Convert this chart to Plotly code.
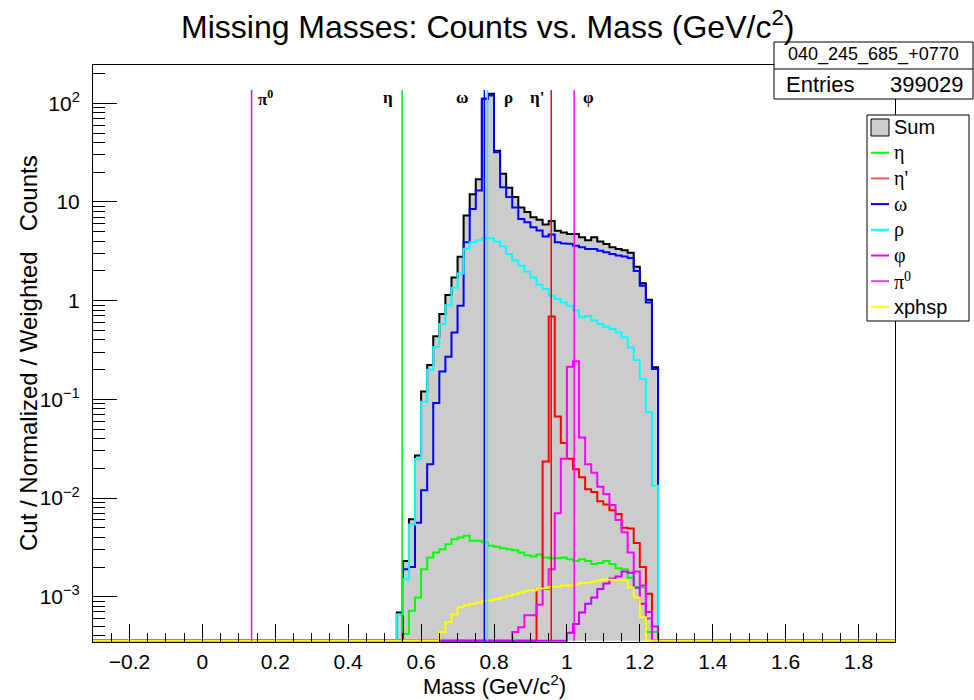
import plotly.graph_objects as go

# ---------------- data (bin width 1/60 GeV; first listed bin lower edge = 32/60) ----------------
BIN_WIDTH = 1.0 / 60.0
FIRST_BIN = 32
AXIS_BIN_LO, AXIS_BIN_HI = -18, 114          # -0.3 .. 1.9

sum_counts = [6.9e-4, 2.3e-3, 6.1e-3, 0.027, 0.12, 0.223, 0.435, 0.733, 1.14, 1.72,
              2.79, 7.3, 12.0, 17.0, 111.0, 125.0, 33.0, 19.3, 13.9, 11.2,
              8.8, 7.9, 7.0, 6.6, 5.9, 6.4, 5.1, 4.9, 4.75, 4.75,
              4.4, 4.1, 4.4, 3.97, 3.76, 3.47, 3.34, 3.25, 3.05, 2.2,
              1.5, 1.02, 0.211]
eta_counts = [0, 4.2e-4, 7.2e-4, 9.8e-4, 1.9e-3, 2.5e-3, 2.8e-3, 3.03e-3, 3.4e-3, 3.83e-3,
              3.98e-3, 4.14e-3, 3.68e-3, 3.68e-3, 3.54e-3, 3.28e-3, 3.2e-3, 3.1e-3, 3.03e-3, 2.95e-3,
              2.8e-3, 2.63e-3, 2.55e-3, 2.68e-3, 2.5e-3, 2.45e-3, 2.45e-3, 2.5e-3, 2.4e-3, 2.3e-3,
              2.4e-3, 2.3e-3, 2.14e-3, 2.2e-3, 2.3e-3, 2.14e-3, 1.94e-3, 1.9e-3, 1.56e-3, 1.26e-3,
              1.24e-3, 4.4e-4, 4.4e-4]
etap_counts = [0, 0, 0, 0, 0, 0, 0, 0, 0, 0,
               0, 0, 0, 0, 0, 0, 0, 0, 0, 0,
               0, 0, 0, 1.2e-3, 0.0234, 0.69, 0.067, 0.036, 0.025, 0.0196,
               0.0162, 0.0123, 0.0115, 0.0093, 0.0086, 0.0075, 0.0069, 0.005, 0.0049, 0.0035,
               0.002, 1.07e-3, 0]
omega_counts = [0, 1.9e-3, 2.0e-3, 5.6e-3, 0.012, 0.022, 0.092, 0.192, 0.27, 0.477,
                0.89, 3.9, 8.5, 13.1, 111.0, 120.0, 31.9, 14.1, 11.2, 8.8,
                6.74, 6.22, 5.54, 5.13, 4.46, 4.67, 3.9, 3.81, 3.76, 3.61,
                3.47, 3.34, 3.34, 3.21, 3.09, 2.97, 2.86, 2.8, 2.7, 2.0,
                1.42, 0.96, 0.203]
rho_counts = [6.6e-4, 1.5e-3, 5.4e-3, 0.0248, 0.0946, 0.2, 0.34, 0.58, 0.9, 1.35,
              1.88, 3.35, 3.9, 4.1, 4.3, 4.3, 3.97, 3.55, 2.97, 2.55,
              2.26, 1.98, 1.72, 1.45, 1.31, 1.12, 1.04, 0.96, 0.89, 0.80,
              0.68, 0.70, 0.63, 0.58, 0.545, 0.516, 0.477, 0.425, 0.336, 0.25,
              0.161, 0.074, 0.0133]
phi_counts = [0, 0, 0, 0, 0, 0, 0, 0, 0, 0,
              0, 0, 0, 0, 0, 0, 0, 0, 0, 4.4e-4,
              4.9e-4, 6.5e-4, 6.5e-4, 8.3e-4, 1.2e-3, 1.9e-3, 0.007, 0.025, 0.214, 0.243,
              0.041, 0.022, 0.018, 0.013, 0.011, 0.0085, 0.006, 0.0045, 0.0028, 0.0018,
              1.3e-3, 6e-4, 0]
pi0_counts = [0, 0, 0, 0, 0, 0, 0, 0, 0, 0,
              0, 0, 0, 0, 0, 0, 0, 0, 0, 0,
              0, 0, 0, 0, 0, 0, 0, 0, 4.3e-4, 5.3e-4,
              6.9e-4, 8.5e-4, 9.8e-4, 1.2e-3, 1.36e-3, 1.53e-3, 1.6e-3, 1.8e-3, 1.75e-3, 1.23e-3,
              8.5e-4, 7e-4, 5e-4]
xphsp_counts = [0, 0, 0, 0, 0, 0, 0, 4.4e-4, 5.5e-4, 6.6e-4,
                7.8e-4, 8.2e-4, 8.5e-4, 8.7e-4, 9.1e-4, 9.2e-4, 9.5e-4, 9.8e-4, 1.02e-3, 1.06e-3,
                1.1e-3, 1.15e-3, 1.16e-3, 1.2e-3, 1.22e-3, 1.26e-3, 1.26e-3, 1.3e-3, 1.3e-3, 1.33e-3,
                1.38e-3, 1.39e-3, 1.43e-3, 1.47e-3, 1.5e-3, 1.48e-3, 1.47e-3, 1.47e-3, 1.24e-3, 9.8e-4,
                6.2e-4, 0, 0]

# reference mass markers
marker_names = ["π<sup>0</sup>", "η", "ω", "ρ", "η'", "φ"]
marker_masses = [0.135, 0.548, 0.7735, 0.782, 0.957, 1.020]
marker_top = 136.0

stats_name = "040_245_685_+0770"
stats_entries = "399029"

legend_names = ["Sum", "η", "η'", "ω", "ρ", "φ", "π<sup>0</sup>", "xphsp"]

# ---------------- styling ----------------
C_SUM_FILL = "#cccccc"
COLORS = {"eta": "#00ff00", "etap": "#ff0000", "omega": "#0000ff", "rho": "#00ffff",
          "phi": "#ff00ff", "pi0": "#cc00ff", "xphsp": "#ffff00"}
marker_colors = ["#ee00ee", "#00ee00", "#0000ff", "#00ffff", "#ff0000", "#ff00ff"]
marker_label_dx = [14, -14, -22, 21, -14, 14]      # px offsets of labels from line

Y_LOG_RANGE = [-3.459, 2.388]
X_RANGE = [-0.3, 1.9]
W, H = 974, 700
PL, PR, PT, PB = 93, 895, 65, 642
DECADE_PX = (PB - PT) / (Y_LOG_RANGE[1] - Y_LOG_RANGE[0])
SANS = "Liberation Sans, Arial, Helvetica, sans-serif"
SERIF = "Liberation Serif, Times New Roman, serif"


def xp(px):
    return (px - PL) / (PR - PL)


def yp(py):
    return (PB - py) / (PB - PT)


# empty bins are drawn on the frame bottom (as ROOT does), lifted by ~1px
Y_FLOOR = 10 ** (Y_LOG_RANGE[0] + 1.3 / DECADE_PX)
edges = [k * BIN_WIDTH for k in range(AXIS_BIN_LO, AXIS_BIN_HI + 1)]


def expand(vals):
    full = [0.0] * (AXIS_BIN_HI - AXIS_BIN_LO)
    for i, v in enumerate(vals):
        full[FIRST_BIN - AXIS_BIN_LO + i] = v
    return full


def step_xy(vals):
    full = expand(vals)
    xs, ys = [], []
    for i, v in enumerate(full):
        y = v if v > 0 else Y_FLOOR
        xs += [edges[i], edges[i + 1]]
        ys += [y, y]
    return xs, ys


fig = go.Figure()

sx, sy = step_xy(sum_counts)
fig.add_trace(go.Scatter(x=sx, y=sy, mode="lines", fill="toself", fillcolor=C_SUM_FILL,
                         line=dict(width=0), hoverinfo="skip"))
fig.add_trace(go.Scatter(x=sx, y=sy, mode="lines", line=dict(color="black", width=2)))

for vals, key in [(eta_counts, "eta"), (etap_counts, "etap"), (omega_counts, "omega"),
                  (rho_counts, "rho"), (phi_counts, "phi"), (pi0_counts, "pi0"),
                  (xphsp_counts, "xphsp")]:
    hx, hy = step_xy(vals)
    fig.add_trace(go.Scatter(x=hx, y=hy, mode="lines", line=dict(color=COLORS[key], width=2)))

annotations = []
for name, m, col, dx in zip(marker_names, marker_masses, marker_colors, marker_label_dx):
    fig.add_trace(go.Scatter(x=[m, m], y=[Y_FLOOR, marker_top], mode="lines",
                             line=dict(color=col, width=1.5)))
    mpx = PL + (m - X_RANGE[0]) / (X_RANGE[1] - X_RANGE[0]) * (PR - PL)
    annotations.append(dict(x=xp(mpx + dx), y=yp(98), xref="paper", yref="paper",
                            text="<b>" + name + "</b>", showarrow=False, xanchor="center",
                            yanchor="middle",
                            font=dict(family=SERIF, size=17, color="black")))

# title & axis titles
annotations.append(dict(x=xp(487), y=yp(25), xref="paper", yref="paper",
                        text="Missing Masses: Counts vs. Mass (GeV/c<sup>2</sup>)",
                        showarrow=False, xanchor="center", yanchor="middle",
                        font=dict(family=SANS, size=32, color="black")))
annotations.append(dict(x=xp(494), y=yp(685), xref="paper", yref="paper",
                        text="Mass (GeV/c<sup>2</sup>)", showarrow=False,
                        xanchor="center", yanchor="middle",
                        font=dict(family=SANS, size=22, color="black")))
annotations.append(dict(x=xp(28), y=yp(353), xref="paper", yref="paper",
                        text="Cut / Normalized / Weighted\u00a0\u00a0 Counts", textangle=-90,
                        showarrow=False, xanchor="center", yanchor="middle",
                        font=dict(family=SANS, size=24, color="black")))

shapes = []
# stats box
shapes.append(dict(type="rect", xref="paper", yref="paper", x0=xp(774), x1=xp(973),
                   y0=yp(99), y1=yp(42), fillcolor="white", line=dict(color="black", width=1),
                   layer="above"))
shapes.append(dict(type="line", xref="paper", yref="paper", x0=xp(774), x1=xp(973),
                   y0=yp(69), y1=yp(69), line=dict(color="black", width=1), layer="above"))
annotations.append(dict(x=xp(873), y=yp(55), xref="paper", yref="paper", text=stats_name,
                        showarrow=False, xanchor="center", yanchor="middle",
                        font=dict(family=SANS, size=18, color="black")))
annotations.append(dict(x=xp(784), y=yp(84), xref="paper", yref="paper", text="Entries",
                        showarrow=False, xanchor="left", yanchor="middle",
                        font=dict(family=SANS, size=22, color="black")))
annotations.append(dict(x=xp(965), y=yp(84), xref="paper", yref="paper", text=stats_entries,
                        showarrow=False, xanchor="right", yanchor="middle",
                        font=dict(family=SANS, size=22, color="black")))

# legend box
shapes.append(dict(type="rect", xref="paper", yref="paper", x0=xp(867), x1=xp(969),
                   y0=yp(321), y1=yp(115), fillcolor="white", line=dict(color="black", width=1),
                   layer="above"))
legend_colors = [None, COLORS["eta"], "#ff5555", COLORS["omega"], COLORS["rho"],
                 COLORS["phi"], "#cc44ff", COLORS["xphsp"]]
for i, (name, col) in enumerate(zip(legend_names, legend_colors)):
    ly = 127 + i * 25.7
    if col is None:
        shapes.append(dict(type="rect", xref="paper", yref="paper", x0=xp(871), x1=xp(889),
                           y0=yp(ly + 9), y1=yp(ly - 8), fillcolor=C_SUM_FILL,
                           line=dict(color="black", width=1), layer="above"))
    else:
        shapes.append(dict(type="line", xref="paper", yref="paper", x0=xp(871), x1=xp(889),
                           y0=yp(ly), y1=yp(ly), line=dict(color=col, width=2), layer="above"))
    fam = SANS if name in ("Sum", "xphsp") else SERIF
    annotations.append(dict(x=xp(892), y=yp(ly), xref="paper", yref="paper", text=name,
                            showarrow=False, xanchor="left", yanchor="middle",
                            font=dict(family=fam, size=20, color="black")))

y_major = [1e-3, 1e-2, 1e-1, 1, 10, 100]
y_major_text = ["10<sup>\u22123</sup>", "10<sup>\u22122</sup>", "10<sup>\u22121</sup>",
                "1", "10", "10<sup>2</sup>"]
y_minor = [m * 10 ** d for d in range(-4, 3) for m in range(2, 10)]

fig.update_layout(
    width=W, height=H, margin=dict(l=PL, r=W - PR, t=PT, b=H - PB),
    paper_bgcolor="white", plot_bgcolor="white", showlegend=False,
    font=dict(family=SANS, color="black"),
    annotations=annotations, shapes=shapes,
    xaxis=dict(range=X_RANGE, tick0=0, dtick=0.2, ticks="inside", ticklen=18, tickwidth=1,
               tickcolor="black", showline=True, linecolor="black", linewidth=1, mirror=True,
               showgrid=False, zeroline=False, tickfont=dict(size=21, family=SANS),
               ticklabelstandoff=1,
               minor=dict(tick0=0, dtick=0.05, ticks="inside", ticklen=9, tickcolor="black",
                          tickwidth=1, showgrid=False)),
    yaxis=dict(type="log", range=Y_LOG_RANGE, tickvals=y_major, ticktext=y_major_text,
               ticks="inside", ticklen=24, tickwidth=1, tickcolor="black", showline=True,
               linecolor="black", linewidth=1, mirror=True, showgrid=False, zeroline=False,
               tickfont=dict(size=21, family=SANS), ticklabelstandoff=8,
               minor=dict(tickmode="array", tickvals=y_minor, ticks="inside", ticklen=12,
                          tickcolor="black", tickwidth=1, showgrid=False)),
)

fig.write_html("out.html")
